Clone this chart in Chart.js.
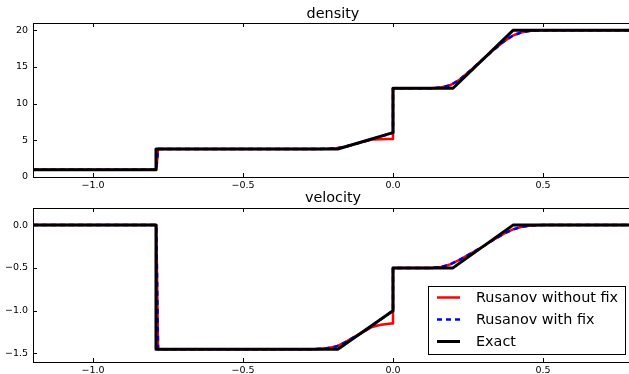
<!DOCTYPE html>
<html>
<head>
<meta charset="utf-8">
<script src="https://cdn.jsdelivr.net/npm/chart.js@4.4.0/dist/chart.umd.min.js"></script>
<style>
html, body { margin: 0; padding: 0; background: #fff; overflow: hidden; width: 629px; height: 374px; }
canvas { position: absolute; left: 0; }
#rhoChart { top: 0; }
#uChart { top: 185px; }
</style>
</head>
<body>
<canvas id="rhoChart" width="640" height="196"></canvas>
<canvas id="uChart" width="640" height="196"></canvas>
<script>
'use strict';

// exact solution
var xExact = [-1.2, -0.79, -0.79, -0.184, 0.0, 0.0, 0.2, 0.4, 0.8];
var rhoExact = [1.0, 1.0, 3.82, 3.82, 6.05, 12.1, 12.1, 20.0, 20.0];
var uExact = [0.0, 0.0, -1.45, -1.45, -1.0, -0.5, -0.5, 0.0, 0.0];

// rusanov, sampled where the curves bend
var xNum = [-1.2, -0.789, -0.783, -0.26, -0.22, -0.19, -0.16, -0.13, -0.1, -0.07, -0.04, -0.02, -0.005, 0.0,
            0.0, 0.13, 0.16, 0.19, 0.22, 0.26, 0.3, 0.34, 0.37, 0.4, 0.43, 0.46, 0.5, 0.8];
var rhoNoFix = [1.0, 1.0, 3.82, 3.82, 3.84, 3.92, 4.12, 4.45, 4.8, 5.12, 5.16, 5.18, 5.18, 5.18,
                12.1, 12.1, 12.2, 12.5, 13.2, 14.6, 16.05, 17.5, 18.5, 19.3, 19.75, 19.95, 20.0, 20.0];
var rhoFix = [1.0, 1.0, 3.82, 3.82, 3.84, 3.92, 4.12, 4.45, 4.8, 5.18, 5.55, 5.8, 5.98, 6.05,
              12.1, 12.1, 12.2, 12.5, 13.2, 14.6, 16.05, 17.5, 18.5, 19.3, 19.75, 19.95, 20.0, 20.0];
var uNoFix = [0.0, 0.0, -1.45, -1.45, -1.44, -1.42, -1.37, -1.31, -1.25, -1.19, -1.165, -1.155, -1.15, -1.15,
              -0.5, -0.5, -0.49, -0.46, -0.41, -0.33, -0.25, -0.16, -0.1, -0.05, -0.02, -0.005, 0.0, 0.0];
var uFix = [0.0, 0.0, -1.45, -1.45, -1.44, -1.42, -1.37, -1.31, -1.25, -1.18, -1.1, -1.05, -1.01, -1.0,
            -0.5, -0.5, -0.49, -0.46, -0.41, -0.33, -0.25, -0.16, -0.1, -0.05, -0.02, -0.005, 0.0, 0.0];

var xTicks = [-1.0, -0.5, 0.0, 0.5];
var rhoTicks = [0, 5, 10, 15, 20];
var uTicks = [-1.5, -1.0, -0.5, 0.0];
var labels = ['Rusanov without fix', 'Rusanov with fix', 'Exact'];

var FONT = 'DejaVu Sans';

function pts(xs, ys) {
    return xs.map(function (x, i) { return {x: x, y: ys[i]}; });
}

function fmt(v, digits) {
    return v.toFixed(digits).replace('-', '\u2212');
}

// box, inward ticks, title and legend drawn like matplotlib
var framePlugin = {
    id: 'frame',
    afterDatasetsDraw: function (chart, args, opts) {
        var ctx = chart.ctx;
        var a = chart.chartArea;
        var xs = chart.scales.x;
        var ys = chart.scales.y;
        ctx.save();
        ctx.strokeStyle = '#000';
        ctx.lineWidth = 1;
        ctx.beginPath();
        xs.ticks.forEach(function (t) {
            var px = Math.round(xs.getPixelForValue(t.value)) + 0.5;
            ctx.moveTo(px, a.bottom); ctx.lineTo(px, a.bottom - 4);
            ctx.moveTo(px, a.top); ctx.lineTo(px, a.top + 4);
        });
        ys.ticks.forEach(function (t) {
            var py = Math.round(ys.getPixelForValue(t.value)) + 0.5;
            ctx.moveTo(a.left, py); ctx.lineTo(a.left + 4, py);
            ctx.moveTo(a.right, py); ctx.lineTo(a.right - 4, py);
        });
        ctx.stroke();
        ctx.strokeRect(Math.round(a.left) + 0.5, Math.round(a.top) + 0.5,
            Math.round(a.right - a.left), Math.round(a.bottom - a.top));

        ctx.fillStyle = '#000';
        ctx.font = '14.4px "' + FONT + '"';
        ctx.textAlign = 'center';
        ctx.textBaseline = 'middle';
        ctx.fillText(opts.title, (a.left + a.right) / 2, opts.titleY);

        if (opts.legend) {
            var bx = a.right - 8 - 197;
            var by = a.bottom - 8 - 68;
            ctx.fillStyle = '#fff';
            ctx.fillRect(bx, by, 197, 68);
            ctx.strokeRect(Math.round(bx) + 0.5, Math.round(by) + 0.5, 197, 68);
            ctx.textAlign = 'left';
            chart.data.datasets.forEach(function (ds, i) {
                var ly = by + 11.5 + i * 22;
                ctx.save();
                ctx.strokeStyle = ds.borderColor;
                ctx.lineWidth = ds.borderWidth;
                ctx.setLineDash(ds.borderDash || []);
                ctx.beginPath();
                ctx.moveTo(bx + 9, ly);
                ctx.lineTo(bx + 32, ly);
                ctx.stroke();
                ctx.restore();
                ctx.fillStyle = '#000';
                ctx.fillText(ds.label, bx + 48, ly + 1);
            });
        }
        ctx.restore();
    }
};

function makeChart(id, title, titleY, yMin, yMax, yTicks, yDigits, noFix, fix, exact, legend) {
    var ctx = document.getElementById(id).getContext('2d');
    return new Chart(ctx, {
        type: 'line',
        data: {
            datasets: [{
                label: labels[0],
                data: pts(xNum, noFix),
                borderColor: '#ff0000',
                borderWidth: 2.5,
                order: 3
            }, {
                label: labels[1],
                data: pts(xNum, fix),
                borderColor: '#0000ff',
                borderWidth: 2.5,
                borderDash: [5, 4],
                order: 2
            }, {
                label: labels[2],
                data: pts(xExact, exact),
                borderColor: '#000000',
                borderWidth: 3,
                order: 1
            }]
        },
        options: {
            responsive: false,
            animation: false,
            events: [],
            elements: {
                point: {radius: 0},
                line: {tension: 0, borderJoinStyle: 'round', fill: false}
            },
            layout: {padding: {top: 23, right: 7, left: 0, bottom: 0}},
            plugins: {
                legend: {display: false},
                tooltip: {enabled: false},
                frame: {title: title, titleY: titleY, legend: legend}
            },
            scales: {
                x: {
                    type: 'linear',
                    min: -1.2,
                    max: 0.8,
                    grid: {display: true, drawOnChartArea: false, drawTicks: false},
                    border: {display: false},
                    afterBuildTicks: function (s) { s.ticks = xTicks.map(function (v) { return {value: v}; }); },
                    afterFit: function (s) { s.height = 19; },
                    ticks: {
                        padding: 3,
                        maxRotation: 0,
                        autoSkip: false,
                        color: '#000',
                        font: {family: FONT, size: 9.5},
                        callback: function (v) { return fmt(v, 1); }
                    }
                },
                y: {
                    type: 'linear',
                    min: yMin,
                    max: yMax,
                    grid: {display: true, drawOnChartArea: false, drawTicks: false},
                    border: {display: false},
                    afterBuildTicks: function (s) { s.ticks = yTicks.map(function (v) { return {value: v}; }); },
                    afterFit: function (s) { s.width = 33; },
                    ticks: {
                        padding: 5,
                        autoSkip: false,
                        color: '#000',
                        font: {family: FONT, size: 9.5},
                        callback: function (v) { return fmt(v, yDigits); }
                    }
                }
            }
        },
        plugins: [framePlugin]
    });
}

var rhoChart = makeChart('rhoChart', 'density', 14, 0, 21, rhoTicks, 0, rhoNoFix, rhoFix, rhoExact, false);
var uChart = makeChart('uChart', 'velocity', 13, -1.6, 0.2, uTicks, 1, uNoFix, uFix, uExact, true);
</script>
</body>
</html>
